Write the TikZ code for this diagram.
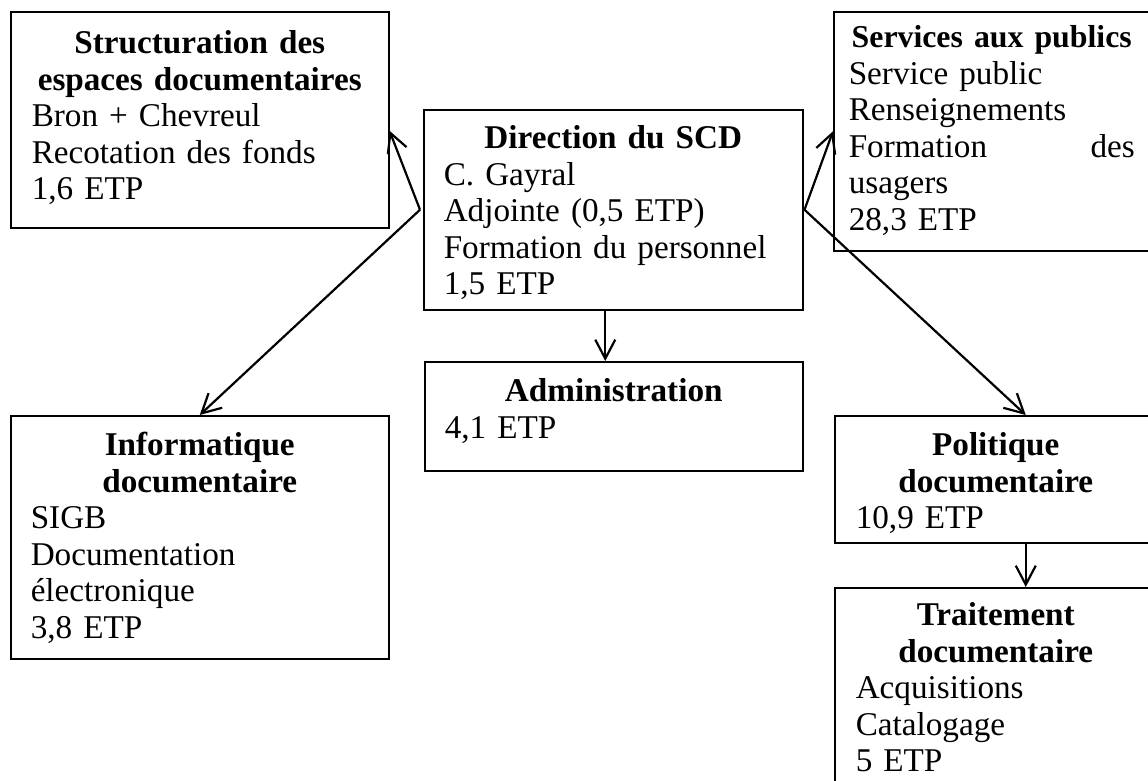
\documentclass[tikz,border=0pt]{standalone}
\usepackage{fontspec}
\setmainfont{Liberation Serif}
\usepackage{tikz}
\usetikzlibrary{positioning}
\usetikzlibrary{arrows.meta}

\newcommand{\unithead}[1]{\hspace*{\fill}\textbf{#1}\hspace*{\fill}\mbox{}}

\begin{document}
\begin{tikzpicture}[x=1pt, y=-1pt,
        unit/.style={rectangle, draw, line width=1.5pt, anchor=north west,
            inner ysep=0pt, align=left,
            font=\fontsize{33.2pt}{36.5pt}\selectfont},
        link/.style={-{Straight Barb[length=19pt,width=20pt]}, line width=2.2pt}]
    \useasboundingbox (0,0) rectangle (1148,780);

    % left column
    \node[unit, inner xsep=21pt, text width=336pt, text height=42pt, text depth=174pt]
        (struct) at (10,11)
        {\unithead{Structuration des}\\ \unithead{espaces documentaires}\\
         Bron + Chevreul\\ Recotation des fonds\\ 1,6 ETP};
    \node[unit, inner xsep=20pt, text width=338pt, text height=40pt, text depth=203pt]
        (info) at (10,415)
        {\unithead{Informatique}\\ \unithead{documentaire}\\
         SIGB\\ Documentation\\ électronique\\ 3,8 ETP};

    % middle
    \node[unit, inner xsep=20pt, text width=339pt, text height=39pt, text depth=161pt]
        (dir) at (423,109)
        {\unithead{Direction du SCD}\\ C. Gayral\\ Adjointe (0,5 ETP)\\
         Formation du personnel\\ 1,5 ETP};
    \node[unit, inner xsep=20pt, text width=338pt, text height=40pt, text depth=69pt]
        (admin) at (424,361)
        {\unithead{Administration}\\ 4,1 ETP};

    % right column (runs past the page edge)
    \node[unit, inner xsep=15pt, text width=286pt, text height=36pt, text depth=203pt]
        (serv) at (833,11)
        {{\fontsize{31.8pt}{36.5pt}\selectfont\unithead{Services aux publics}}\\
         Service public\\ Renseignements\\ Formation\hfill des\\ usagers\\ 28,3 ETP};
    \node[unit, inner xsep=21pt, text width=280pt, text height=40pt, text depth=87pt]
        (polit) at (834,415)
        {\unithead{Politique}\\ \unithead{documentaire}\\ 10,9 ETP};
    \node[unit, inner xsep=21pt, text width=280pt, text height=38pt, text depth=220pt]
        (trait) at (834,587)
        {\unithead{Traitement}\\ \unithead{documentaire}\\
         Acquisitions\\ Catalogage\\ 5 ETP};

    % arrows
    \coordinate (lhub) at ([xshift=-3pt]dir.west);
    \coordinate (rhub) at ([xshift=1pt]dir.east);
    \draw[link] (lhub) -- ([yshift=-11pt]struct.east);
    \draw[link] (lhub) -- (info.north);
    \draw[link] (rhub) -- (serv.west);
    \draw[link] (rhub) -- ([xshift=30pt]polit.north);
    \draw[link] ([xshift=-8pt]dir.south) -- ([xshift=-8pt]dir.south |- admin.north);
    \draw[link] ([xshift=30pt]polit.south) -- ([xshift=30pt]trait.north);

\end{tikzpicture}
\end{document}
